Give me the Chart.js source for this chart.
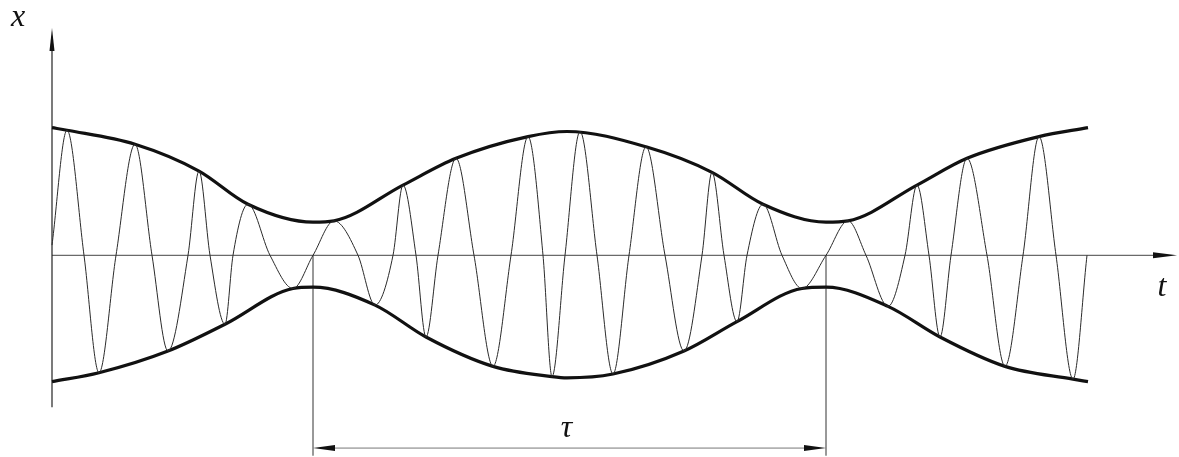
<!DOCTYPE html>
<html>
<head>
<meta charset="utf-8">
<title>Beats</title>
<script src="https://cdn.jsdelivr.net/npm/chart.js@4.4.1/dist/chart.umd.min.js"></script>
<style>
    html, body { margin: 0; padding: 0; background: #fff; }
    #wrap { width: 1179px; height: 457px; position: relative; }
</style>
</head>
<body>
<div id="wrap"><canvas id="beatChart"></canvas></div>
<script>
// Oscillation: start, then peak / zero / trough / zero for every cycle
const waveT = [0,
    15, 32, 47, 64,   83, 100, 116, 136,   147, 158, 173, 181,   196, 218, 241, 261,
    282, 306, 323, 341,   351, 364, 374, 386,   404, 422, 441, 459,   476, 491, 500, 513,
    528, 545, 561, 577,   594, 613, 632, 650,   660, 672, 685, 695,   711, 730, 750, 774,
    796, 814, 836, 853,   865, 877, 888, 899,   915, 935, 953, 971,   987, 1004, 1021, 1035];
const waveX = [0.08,
    0.98, 0, -0.92, 0,   0.87, 0, -0.75, 0,   0.66, 0, -0.54, 0,   0.40, 0, -0.26, 0,
    0.27, 0, -0.39, 0,   0.55, 0, -0.64, 0,   0.76, 0, -0.87, 0,   0.93, 0, -0.95, 0,
    0.97, 0, -0.93, 0,   0.85, 0, -0.75, 0,   0.65, 0, -0.52, 0,   0.40, 0, -0.26, 0,
    0.27, 0, -0.40, 0,   0.55, 0, -0.64, 0,   0.76, 0, -0.87, 0,   0.93, 0, -0.97, 0];

// Upper envelope
const upperT = [0, 15, 83, 147, 196, 261, 282, 351, 404, 476, 515, 594, 660, 711, 774, 796, 865, 915, 987, 1036];
const upperX = [1.00, 0.98, 0.87, 0.66, 0.40, 0.26, 0.27, 0.55, 0.76, 0.93, 0.97, 0.85, 0.65, 0.40, 0.26, 0.27, 0.55, 0.76, 0.93, 1.00];

// Lower envelope
const lowerT = [0, 47, 116, 173, 241, 261, 323, 374, 441, 500, 515, 561, 632, 685, 750, 774, 836, 888, 953, 1021, 1036];
const lowerX = [-0.99, -0.92, -0.75, -0.54, -0.26, -0.25, -0.39, -0.64, -0.87, -0.95, -0.96, -0.93, -0.75, -0.52, -0.26, -0.25, -0.40, -0.64, -0.87, -0.97, -0.99];

// Beat period marks and axis extents
const tauStart = 261;
const tauEnd = 774;
const tMax = 1125;
const xTop = 1.78;
const xBottom = -1.19;

const LABEL_FONT = 'italic 32px "Times New Roman", "Liberation Serif", Times, serif';

function toPoints(ts, xs) {
    return ts.map((t, i) => ({ x: t, y: xs[i] }));
}

function arrowHead(ctx, tipX, tipY, dirX, dirY, len, half) {
    const bx = tipX - dirX * len;
    const by = tipY - dirY * len;
    ctx.beginPath();
    ctx.moveTo(tipX, tipY);
    ctx.lineTo(bx - dirY * half, by + dirX * half);
    ctx.lineTo(bx + dirY * half, by - dirX * half);
    ctx.closePath();
    ctx.fill();
}

// Axes, arrows, period marks and labels
const beatAxes = {
    id: 'beatAxes',
    beforeDatasetsDraw(chart) {
        const ctx = chart.ctx;
        const sx = chart.scales.x;
        const sy = chart.scales.y;
        const x0 = sx.getPixelForValue(0);
        const y0 = sy.getPixelForValue(0);

        ctx.save();
        // t axis
        ctx.strokeStyle = '#6a6a6a';
        ctx.fillStyle = '#111';
        ctx.lineWidth = 1.2;
        ctx.beginPath();
        ctx.moveTo(x0, y0);
        ctx.lineTo(sx.getPixelForValue(tMax) - 10, y0);
        ctx.stroke();
        arrowHead(ctx, sx.getPixelForValue(tMax), y0, 1, 0, 24, 3);

        // x axis
        ctx.strokeStyle = '#222';
        ctx.beginPath();
        ctx.moveTo(x0, sy.getPixelForValue(xBottom));
        ctx.lineTo(x0, sy.getPixelForValue(xTop) + 10);
        ctx.stroke();
        arrowHead(ctx, x0, sy.getPixelForValue(xTop), 0, -1, 23, 2.5);

        // period lines
        const yLow = sy.getPixelForValue(-1.57);
        const yArrow = sy.getPixelForValue(-1.51);
        const xa = sx.getPixelForValue(tauStart);
        const xb = sx.getPixelForValue(tauEnd);
        ctx.strokeStyle = '#333';
        ctx.lineWidth = 1;
        ctx.beginPath();
        ctx.moveTo(xa, y0);
        ctx.lineTo(xa, yLow);
        ctx.moveTo(xb, y0);
        ctx.lineTo(xb, yLow);
        ctx.stroke();
        ctx.strokeStyle = '#777';
        ctx.beginPath();
        ctx.moveTo(xa + 10, yArrow);
        ctx.lineTo(xb - 10, yArrow);
        ctx.stroke();
        arrowHead(ctx, xa, yArrow, -1, 0, 22, 3);
        arrowHead(ctx, xb, yArrow, 1, 0, 22, 3);
        ctx.restore();
    },
    afterDraw(chart) {
        const ctx = chart.ctx;
        const sx = chart.scales.x;
        const sy = chart.scales.y;
        ctx.save();
        ctx.fillStyle = '#111';
        ctx.font = LABEL_FONT;
        ctx.textAlign = 'center';
        ctx.textBaseline = 'middle';
        ctx.fillText('x', sx.getPixelForValue(-34), sy.getPixelForValue(1.86));
        ctx.fillText('t', sx.getPixelForValue(1110), sy.getPixelForValue(-0.25));
        ctx.fillText('\u03C4', sx.getPixelForValue((tauStart + tauEnd) / 2 - 3), sy.getPixelForValue(-1.355));
        ctx.restore();
    }
};

const chart = new Chart(document.getElementById('beatChart').getContext('2d'), {
    type: 'line',
    data: {
        datasets: [
            {
                data: toPoints(waveT, waveX),
                borderColor: '#2a2a2a',
                borderWidth: 1,
                cubicInterpolationMode: 'monotone',
                pointRadius: 0,
                clip: 6
            },
            {
                data: toPoints(upperT, upperX),
                borderColor: '#111',
                borderWidth: 3.2,
                cubicInterpolationMode: 'monotone',
                pointRadius: 0,
                clip: 6
            },
            {
                data: toPoints(lowerT, lowerX),
                borderColor: '#111',
                borderWidth: 3.2,
                cubicInterpolationMode: 'monotone',
                pointRadius: 0,
                clip: 6
            }
        ]
    },
    options: {
        responsive: true,
        maintainAspectRatio: false,
        animation: false,
        layout: { padding: { left: 52, right: 2, top: 0, bottom: 0 } },
        plugins: {
            legend: { display: false },
            tooltip: { enabled: false }
        },
        scales: {
            x: { type: 'linear', min: 0, max: tMax, display: false },
            y: { type: 'linear', min: -1.58, max: 2.0, display: false }
        }
    },
    plugins: [beatAxes]
});
</script>
</body>
</html>
